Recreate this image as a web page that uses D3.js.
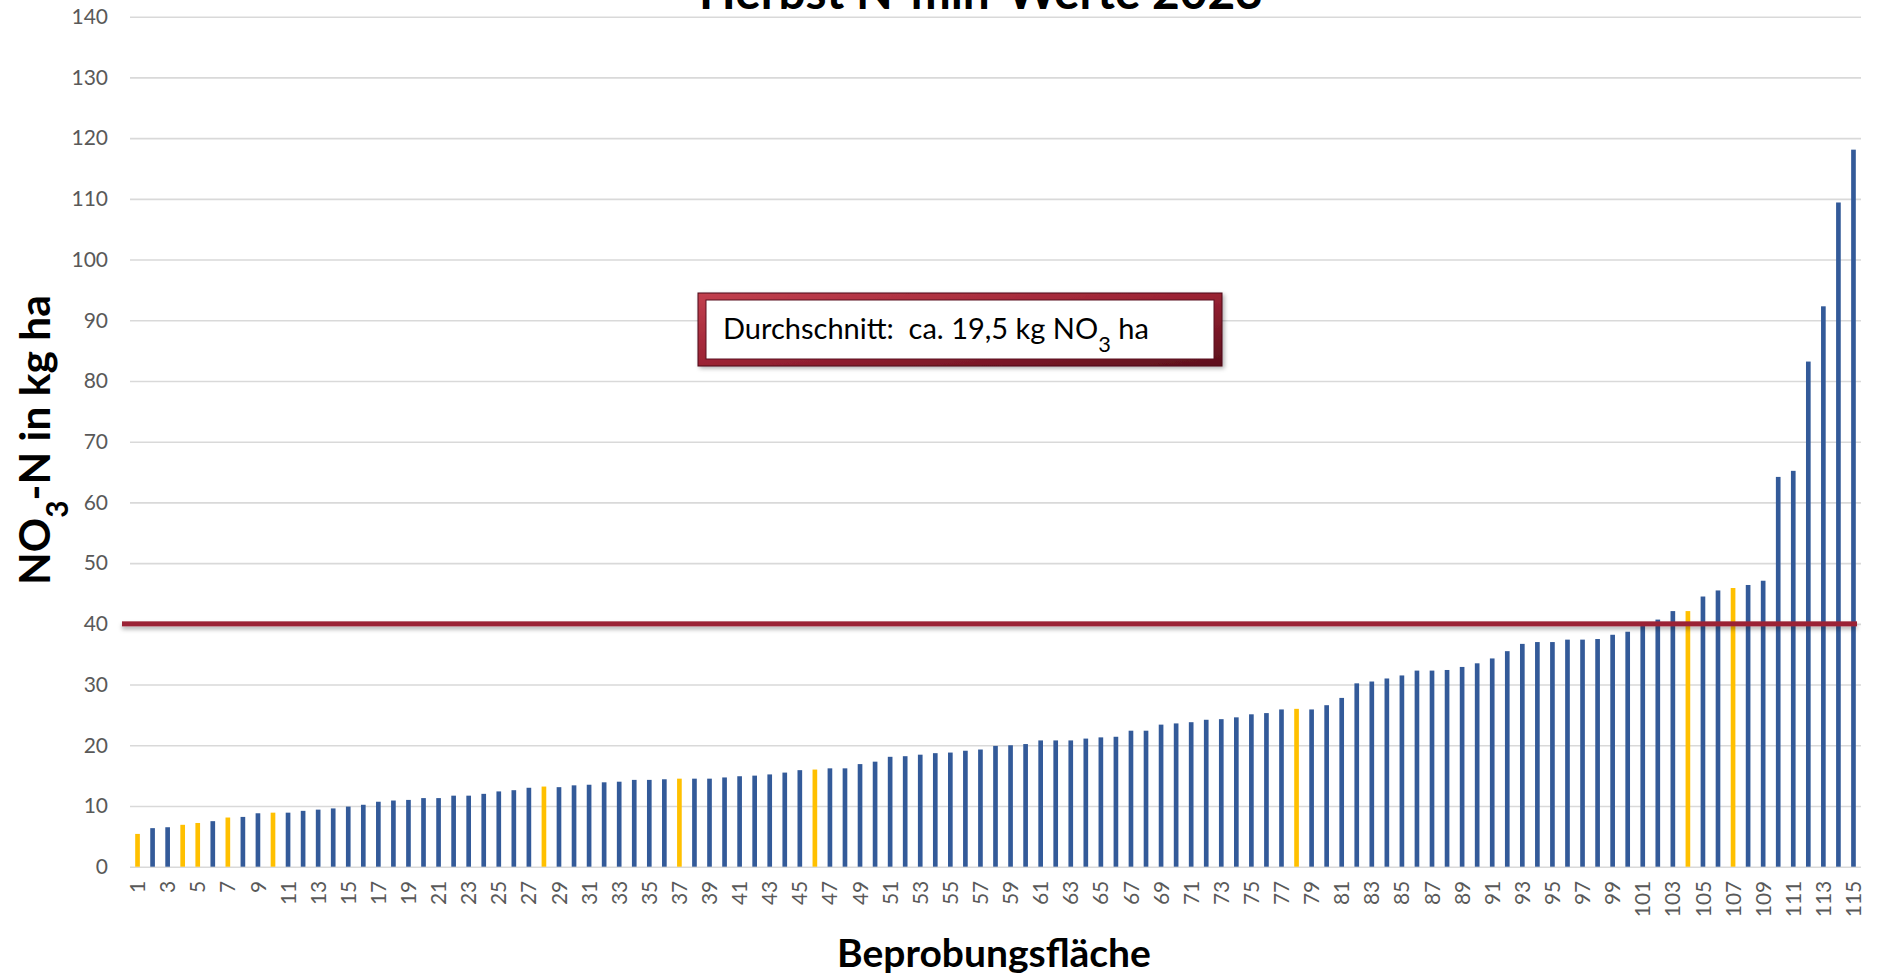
<!DOCTYPE html>
<html>
<head>
<meta charset="utf-8">
<script src="https://cdn.jsdelivr.net/npm/d3@7"></script>
<style>
  html, body { margin: 0; padding: 0; background: #ffffff; }
  svg { display: block; }
  text { font-family: Lato, "Open Sans", "Liberation Sans", sans-serif; }
</style>
</head>
<body>
<svg id="chart" width="1878" height="976"></svg>
<script>
// ---------- data ----------
const categories = d3.range(1, 116);
const values = [
  5.4, 6.35, 6.5, 6.9, 7.2, 7.5, 8.1, 8.2, 8.8, 8.9,
  8.9, 9.2, 9.4, 9.6, 9.9, 10.2, 10.7, 10.9, 11.0, 11.3,
  11.3, 11.7, 11.7, 12.0, 12.4, 12.6, 13.0, 13.2, 13.1, 13.4,
  13.5, 13.9, 14.0, 14.3, 14.3, 14.4, 14.5, 14.5, 14.5, 14.7,
  14.9, 15.0, 15.2, 15.5, 15.9, 16.0, 16.2, 16.2, 16.9, 17.3,
  18.1, 18.2, 18.45, 18.7, 18.8, 19.1, 19.3, 19.9, 20.0, 20.2,
  20.8, 20.8, 20.8, 21.1, 21.3, 21.4, 22.4, 22.4, 23.4, 23.6,
  23.8, 24.2, 24.3, 24.6, 25.1, 25.3, 25.9, 26.0, 25.9, 26.6,
  27.8, 30.2, 30.5, 31.0, 31.5, 32.3, 32.3, 32.4, 32.9, 33.5,
  34.3, 35.5, 36.7, 37.0, 37.0, 37.4, 37.4, 37.5, 38.2, 38.7,
  39.8, 40.7, 42.1, 42.1, 44.5, 45.5, 45.9, 46.4, 47.1, 64.2,
  65.2, 83.2, 92.3, 109.4, 118.1
];
const highlighted = [1, 4, 5, 7, 10, 28, 37, 46, 78, 104, 107];
const yTicks = d3.range(0, 141, 10);
const xTickLabels = categories.filter(c => c % 2 === 1);
const thresholdValue = [40];
const titleText = "Herbst N-min-Werte 2023";
const xAxisTitle = "Beprobungsfläche";
const yAxisTitleParts = ["NO", "3", "-N in kg ha"];
const noteParts = ["Durchschnitt:\u00a0\u00a0ca. 19,5 kg NO", "3", " ha"];

// ---------- layout ----------
const svg = d3.select("#chart");
const plotLeft = 130, plotRight = 1861, plotTop = 16.7, plotBottom = 866.7;

const x = d3.scaleBand()
  .domain(categories)
  .range([plotLeft, plotRight])
  .paddingInner(0.69)
  .paddingOuter(0.345);
const y = d3.scaleLinear().domain([0, 140]).range([plotBottom, plotTop]);

const defs = svg.append("defs");
const sh = defs.append("filter").attr("id", "lineShadow")
  .attr("filterUnits", "userSpaceOnUse")
  .attr("x", 0).attr("y", 0).attr("width", 1878).attr("height", 976);
sh.append("feDropShadow").attr("dx", 0).attr("dy", 3).attr("stdDeviation", 2)
  .attr("flood-color", "#000").attr("flood-opacity", 0.3);
const bsh = defs.append("filter").attr("id", "boxShadow")
  .attr("x", "-10%").attr("y", "-30%").attr("width", "120%").attr("height", "160%");
bsh.append("feDropShadow").attr("dx", 2).attr("dy", 2).attr("stdDeviation", 2)
  .attr("flood-color", "#000").attr("flood-opacity", 0.3);
const grad = defs.append("linearGradient").attr("id", "bevel")
  .attr("x1", "0").attr("y1", "0").attr("x2", "1").attr("y2", "1");
grad.append("stop").attr("offset", "0%").attr("stop-color", "#c2404f");
grad.append("stop").attr("offset", "50%").attr("stop-color", "#9a2233");
grad.append("stop").attr("offset", "100%").attr("stop-color", "#5c0f1c");

// gridlines
svg.append("g")
  .attr("transform", `translate(${plotLeft},0)`)
  .call(d3.axisLeft(y).tickValues(yTicks).tickSize(-(plotRight - plotLeft)).tickFormat(""))
  .call(g => g.select(".domain").remove())
  .call(g => g.selectAll("line").attr("stroke", "#d9d9d9").attr("stroke-width", 1.6));

// y tick labels
svg.append("g")
  .attr("transform", `translate(108,0)`)
  .call(d3.axisLeft(y).tickValues(yTicks).tickSize(0).tickPadding(0))
  .call(g => g.select(".domain").remove())
  .call(g => g.selectAll("text")
    .attr("fill", "#595959")
    .style("font-size", "21px")
    .style("font-family", "Lato, 'Open Sans', sans-serif"));

// bars
svg.append("g").selectAll("rect")
  .data(categories)
  .join("rect")
  .attr("x", d => x(d))
  .attr("width", x.bandwidth())
  .attr("y", (d, i) => y(values[i]))
  .attr("height", (d, i) => y(0) - y(values[i]))
  .attr("fill", d => highlighted.includes(d) ? "#ffc000" : "#335a99");

// x tick labels
svg.append("g")
  .attr("transform", `translate(0,${plotBottom})`)
  .call(d3.axisBottom(x).tickValues(xTickLabels).tickSize(0).tickPadding(0))
  .call(g => g.select(".domain").remove())
  .call(g => g.selectAll("text")
    .attr("fill", "#595959")
    .style("font-size", "21px")
    .style("font-family", "Lato, 'Open Sans', sans-serif")
    .attr("text-anchor", "end")
    .attr("transform", "rotate(-90)")
    .attr("x", -14)
    .attr("y", 0)
    .attr("dy", "0.36em"));

// threshold line
svg.append("g").selectAll("rect")
  .data(thresholdValue)
  .join("rect")
  .attr("x", 122).attr("width", 1857 - 122)
  .attr("y", d => y(d) - 2.5).attr("height", 5)
  .attr("fill", "#9b2335")
  .attr("filter", "url(#lineShadow)");

// helper to fit text to a target width
function fit(sel, targetWidth, startSize) {
  sel.style("font-size", startSize + "px");
  const w = sel.node().getComputedTextLength();
  const s = startSize * targetWidth / w;
  sel.style("font-size", s + "px");
  return s;
}

// title (cut off at top, as in the reference)
const t = svg.append("text")
  .attr("x", 981).attr("y", 8.5)
  .attr("text-anchor", "middle")
  .attr("font-weight", "bold")
  .attr("fill", "#000")
  .text(titleText);
fit(t, 564, 44);

// x axis title
const xt = svg.append("text")
  .attr("x", 994).attr("y", 967)
  .attr("text-anchor", "middle")
  .attr("font-weight", "bold")
  .attr("fill", "#000")
  .text(xAxisTitle);
fit(xt, 314, 38);

// y axis title
const yt = svg.append("text")
  .attr("transform", "translate(50,440) rotate(-90)")
  .attr("text-anchor", "middle")
  .attr("font-weight", "bold")
  .attr("fill", "#000");
yt.append("tspan").text(yAxisTitleParts[0]);
yt.append("tspan").attr("baseline-shift", "sub").style("font-size", "70%").text(yAxisTitleParts[1]);
yt.append("tspan").text(yAxisTitleParts[2]);
fit(yt, 290, 40);

// annotation box
const box = svg.append("g");
box.append("rect")
  .attr("x", 698).attr("y", 293).attr("width", 524).attr("height", 73)
  .attr("fill", "url(#bevel)").attr("stroke", "#4a0c16").attr("stroke-width", 1)
  .attr("filter", "url(#boxShadow)");
box.append("rect")
  .attr("x", 706).attr("y", 300).attr("width", 508).attr("height", 59)
  .attr("fill", "#ffffff").attr("stroke", "#5a1020").attr("stroke-width", 1);
const nt = box.append("text")
  .attr("x", 723).attr("y", 339)
  .attr("fill", "#000");
nt.append("tspan").text(noteParts[0]);
nt.append("tspan").attr("baseline-shift", "sub").style("font-size", "75%").text(noteParts[1]);
nt.append("tspan").text(noteParts[2]);
fit(nt, 426, 28);
</script>
</body>
</html>
